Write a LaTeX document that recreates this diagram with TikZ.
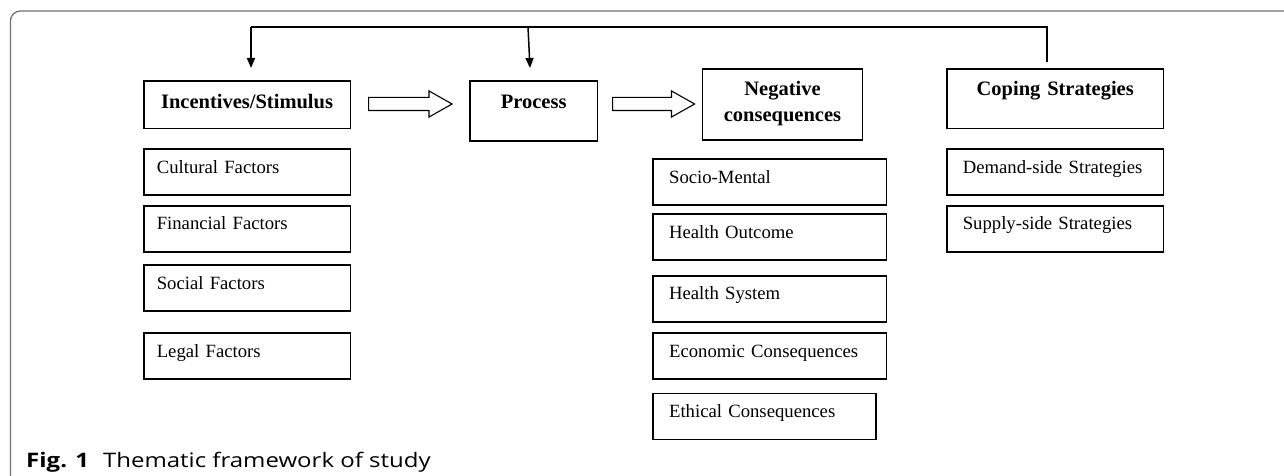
\documentclass[tikz,border=0pt]{standalone}
\usepackage{fontspec}
\setmainfont{Liberation Serif}
\newfontfamily\capfont[FakeStretch=1.2]{Open Sans}
\usetikzlibrary{arrows.meta,shapes.arrows}

\tikzset{
    headbox/.style={draw, line width=1.6pt, anchor=north west, inner sep=0pt, align=center,
        font=\fontsize{20.5}{26.4}\selectfont\bfseries},
    itembox/.style={draw, line width=1.6pt, anchor=north west, inner ysep=0pt, inner xsep=16pt,
        align=left, text height=24pt, text depth=22pt, font=\fontsize{18.7}{23}\selectfont},
    fatarrow/.style={single arrow, draw, line width=1.1pt, anchor=tail, inner xsep=0pt, inner ysep=6pt,
        minimum width=25pt, single arrow head extend=6.5pt, single arrow tip angle=59},
    fback/.style={line width=1.5pt},
    fbtip/.style={-{Triangle[length=10pt,width=8pt]}}
}

\begin{document}
\begin{tikzpicture}[x=1pt, y=-1pt]
    \useasboundingbox (0,0) rectangle (1284,476);
    \draw[line width=1.3pt, color=black!55, rounded corners=10pt] (10.4,476) -- (10.4,11) -- (1284,11);

    \node[headbox, text width=206.5pt, text height=27.7pt, text depth=20pt] (incent) at (143,80) {Incentives/Stimulus};
    \node[headbox, text width=127.8pt, text height=27.7pt, text depth=32.3pt] (process) at (469,80) {Process};
    \node[headbox, text width=160.2pt, text height=26pt, text depth=45pt] (negative) at (701.6,68.3) {Negative\\consequences};
    \node[headbox, text width=216.8pt, text height=26pt, text depth=33.4pt] (coping) at (946,68.3) {Coping Strategies};

    \node[itembox, inner xsep=13pt, text width=180.5pt] (cultural) at (143,148.3) {Cultural Factors};
    \node[itembox, inner xsep=13pt, text width=180.5pt] (financial) at (143,205) {Financial Factors};
    \node[itembox, inner xsep=13pt, text width=180.5pt] (social) at (143,264.3) {Social Factors};
    \node[itembox, inner xsep=13pt, text width=180.5pt] (legal) at (143,332.3) {Legal Factors};

    \node[itembox, text width=201.3pt] (sociomental) at (652.3,158.3) {Socio-Mental};
    \node[itembox, text width=201.3pt] (outcome) at (652.3,213.3) {Health Outcome};
    \node[itembox, text width=201.3pt] (system) at (652.3,275) {Health System};
    \node[itembox, text width=201.3pt] (economic) at (652.3,332.3) {Economic Consequences};
    \node[itembox, text width=191pt] (ethical) at (652.3,392.7) {Ethical Consequences};

    \node[itembox, text width=184.8pt] (demand) at (946,148.3) {Demand-side Strategies};
    \node[itembox, text width=184.8pt] (supply) at (946,205) {Supply-side Strategies};

    \node[fatarrow, minimum height=83.5pt] (arrA) at (368,104) {};
    \node[fatarrow, minimum height=82pt] (arrB) at (612,104) {};

    \coordinate (fbend) at (1047,62);
    \coordinate (fbright) at (1047,27);
    \coordinate (fbmid) at (528,27);
    \coordinate (fbleft) at (251,27);
    \draw[fback] (fbend) -- (fbright) -- (fbleft);
    \draw[fback, fbtip] (fbleft) -- ([xshift=108pt, yshift=12pt]incent.north west);
    \draw[fback, fbtip] (fbmid) -- ([xshift=61pt, yshift=12pt]process.north west);

    \node[anchor=base west, inner sep=0pt, font=\capfont\fontsize{20}{24}\selectfont] (caption) at (26,467)
        {\textbf{Fig. 1}\hspace{14pt}Thematic framework of study};
\end{tikzpicture}
\end{document}
